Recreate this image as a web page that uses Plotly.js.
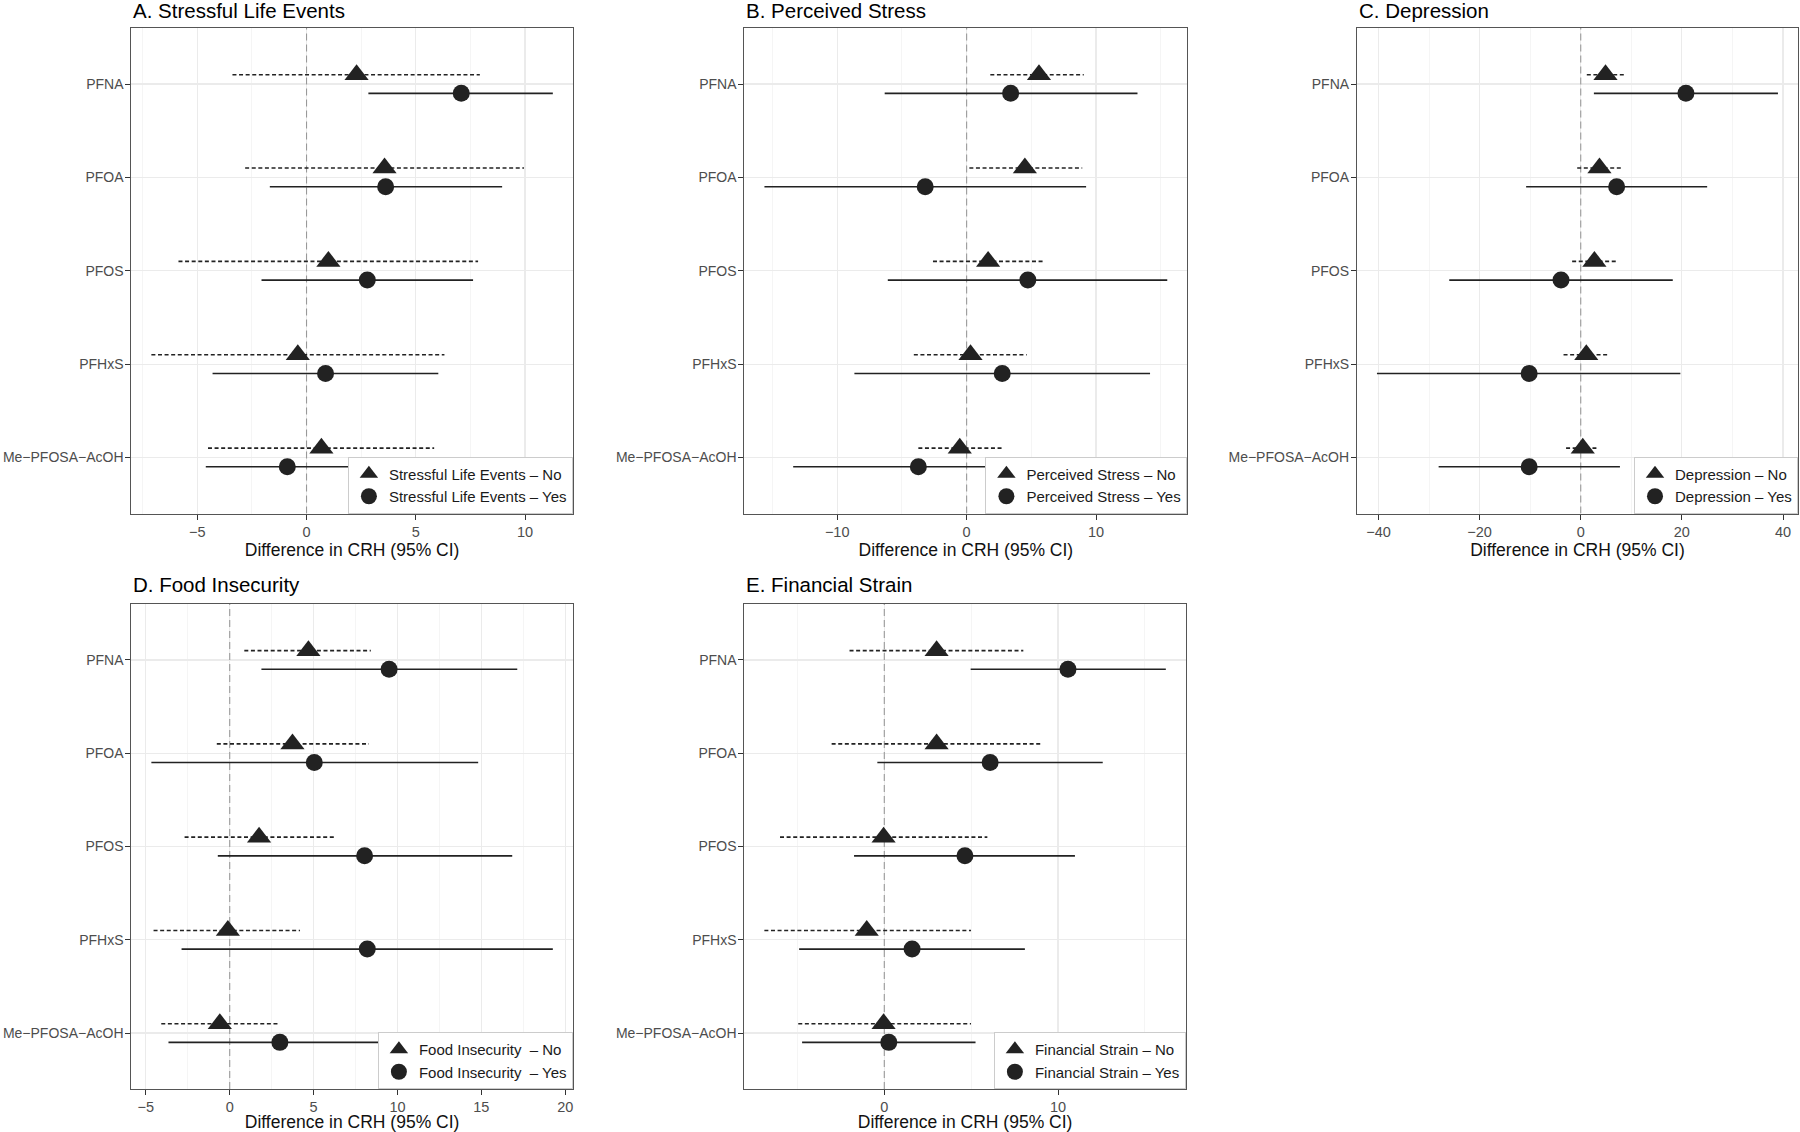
<!DOCTYPE html>
<html>
<head>
<meta charset="utf-8">
<script src="https://cdn.plot.ly/plotly-3.0.1.min.js"></script>
<style>html,body{margin:0;padding:0;background:#fff;} #chart{width:1800px;height:1132px;}</style>
</head>
<body>
<div id="chart"></div>
<script>
// ---------- DATA ----------
const chemicals = ["PFNA", "PFOA", "PFOS", "PFHxS", "Me\u2212PFOSA\u2212AcOH"];

const panelTitles = ["A. Stressful Life Events", "B. Perceived Stress", "C. Depression", "D. Food Insecurity", "E. Financial Strain"];
const legendNames = ["Stressful Life Events", "Perceived Stress", "Depression", "Food Insecurity\u00a0", "Financial Strain"];
const axisTitle = "Difference in CRH (95% CI)";

// A. Stressful Life Events
const A_no_est = [2.29, 3.57, 1.00, -0.40, 0.68];
const A_no_lo  = [-3.39, -2.81, -5.86, -7.10, -4.51];
const A_no_hi  = [7.93, 9.95, 7.85, 6.31, 5.84];
const A_yes_est = [7.08, 3.62, 2.78, 0.87, -0.88];
const A_yes_lo  = [2.83, -1.68, -2.06, -4.30, -4.61];
const A_yes_hi  = [11.27, 8.95, 7.62, 6.03, 3.0];

// B. Perceived Stress
const B_no_est = [5.59, 4.50, 1.66, 0.30, -0.53];
const B_no_lo  = [1.83, 0.21, -2.60, -4.08, -3.73];
const B_no_hi  = [9.05, 8.93, 5.95, 4.64, 2.78];
const B_yes_est = [3.40, -3.20, 4.73, 2.75, -3.73];
const B_yes_lo  = [-6.33, -15.62, -6.09, -8.67, -13.4];
const B_yes_hi  = [13.2, 9.23, 15.5, 14.17, 6.0];

// C. Depression
const C_no_est = [4.9, 3.7, 2.7, 1.1, 0.4];
const C_no_lo  = [1.2, -0.7, -1.7, -3.4, -2.9];
const C_no_hi  = [8.6, 8.1, 7.0, 5.3, 3.1];
const C_yes_est = [20.8, 7.1, -3.9, -10.2, -10.2];
const C_yes_lo  = [2.6, -10.8, -26.0, -40.3, -28.1];
const C_yes_hi  = [39.0, 25.0, 18.2, 19.7, 7.75];

// D. Food Insecurity
const D_no_est = [4.69, 3.74, 1.75, -0.11, -0.59];
const D_no_lo  = [0.87, -0.77, -2.69, -4.54, -4.08];
const D_no_hi  = [8.41, 8.30, 6.22, 4.19, 2.99];
const D_yes_est = [9.50, 5.04, 8.04, 8.20, 2.99];
const D_yes_lo  = [1.89, -4.67, -0.71, -2.87, -3.65];
const D_yes_hi  = [17.14, 14.81, 16.84, 19.26, 10.0];

// E. Financial Strain
const E_no_est = [3.01, 3.01, -0.04, -1.01, -0.04];
const E_no_lo  = [-2.0, -3.03, -6.0, -6.90, -4.95];
const E_no_hi  = [8.0, 9.01, 5.93, 4.99, 4.99];
const E_yes_est = [10.57, 6.09, 4.64, 1.60, 0.26];
const E_yes_lo  = [4.97, -0.40, -1.74, -4.90, -4.73];
const E_yes_hi  = [16.2, 12.57, 10.97, 8.09, 5.25];

const xTickStep = [5, 10, 20, 5, 10];

// ---------- BUILD ----------
const panels = [
  {no:[A_no_est,A_no_lo,A_no_hi], yes:[A_yes_est,A_yes_lo,A_yes_hi]},
  {no:[B_no_est,B_no_lo,B_no_hi], yes:[B_yes_est,B_yes_lo,B_yes_hi]},
  {no:[C_no_est,C_no_lo,C_no_hi], yes:[C_yes_est,C_yes_lo,C_yes_hi]},
  {no:[D_no_est,D_no_lo,D_no_hi], yes:[D_yes_est,D_yes_lo,D_yes_hi]},
  {no:[E_no_est,E_no_lo,E_no_hi], yes:[E_yes_est,E_yes_lo,E_yes_hi]}
];

// panel boxes in pixels [left, right, top, bottom, titleCenterY]
const W = 1800, H = 1132;
const boxes = [
  [131.3, 572.9, 28, 513.5, 11],
  [744.3, 1187.4, 28, 513.5, 11],
  [1356.9, 1798, 28, 513.5, 11],
  [131.3, 572.9, 604, 1089, 584],
  [744.3, 1185.9, 604, 1089, 584]
];

const nCat = chemicals.length;
const catPos = chemicals.map((c, i) => nCat - i);
const yRange = [0.4, nCat + 0.6];
const dodge = 0.1;
const ink = '#222222';
const fontFam = '"Liberation Sans", Arial, Helvetica, sans-serif';

const traces = [];
const layout = {
  width: W, height: H,
  margin: {l:0, r:0, t:0, b:0},
  paper_bgcolor: '#ffffff', plot_bgcolor: '#ffffff',
  font: {family: fontFam, color: '#1a1a1a'},
  showlegend: true,
  shapes: [], annotations: []
};

function segs(lo, hi, yoff) {
  const xs = [], ys = [];
  lo.forEach((v, i) => { xs.push(v, hi[i], null); ys.push(catPos[i] + yoff, catPos[i] + yoff, null); });
  return {xs, ys};
}

panels.forEach((p, k) => {
  const n = k + 1;
  const xa = n === 1 ? 'x' : 'x' + n;
  const ya = n === 1 ? 'y' : 'y' + n;
  const lg = n === 1 ? 'legend' : 'legend' + n;
  const b = boxes[k];

  const sNo = segs(p.no[1], p.no[2], dodge);
  const sYes = segs(p.yes[1], p.yes[2], -dodge);
  traces.push({type:'scatter', mode:'lines', x:sNo.xs, y:sNo.ys, xaxis:xa, yaxis:ya,
    line:{color:ink, width:1.6, dash:'4px,2.6px'}, showlegend:false, hoverinfo:'skip', connectgaps:false});
  traces.push({type:'scatter', mode:'lines', x:sYes.xs, y:sYes.ys, xaxis:xa, yaxis:ya,
    line:{color:ink, width:1.6}, showlegend:false, hoverinfo:'skip', connectgaps:false});
  traces.push({type:'scatter', mode:'markers', x:p.no[0], y:catPos.map(v => v + dodge), xaxis:xa, yaxis:ya,
    marker:{symbol:'triangle-up', size:21, color:ink}, name: legendNames[k] + ' \u2013 No', legend: lg});
  traces.push({type:'scatter', mode:'markers', x:p.yes[0], y:catPos.map(v => v - dodge), xaxis:xa, yaxis:ya,
    marker:{symbol:'circle', size:17, color:ink}, name: legendNames[k] + ' \u2013 Yes', legend: lg});

  const all = [].concat(p.no[1], p.no[2], p.yes[1], p.yes[2], p.no[0], p.yes[0]);
  const mn = Math.min(...all), mx = Math.max(...all);
  const pad = (mx - mn) * 0.05;

  const xKey = n === 1 ? 'xaxis' : 'xaxis' + n;
  const yKey = n === 1 ? 'yaxis' : 'yaxis' + n;
  layout[xKey] = {
    domain: [b[0] / W, b[1] / W], anchor: ya,
    range: [mn - pad, mx + pad],
    dtick: xTickStep[k], tick0: 0, tickmode: 'linear',
    ticks: 'outside', ticklen: 5, tickcolor: '#333333', tickwidth: 1,
    tickfont: {size: 14.5, color: '#4d4d4d'},
    showgrid: true, gridcolor: '#ebebeb', gridwidth: 1.2,
    minor: {dtick: xTickStep[k] / 2, tick0: 0, showgrid: true, gridcolor: '#f2f2f2', gridwidth: 0.8, ticks: ''},
    zeroline: false,
    showline: true, mirror: true, linecolor: '#555555', linewidth: 1,
    title: {text: axisTitle, font: {size: 17.5, color: '#111111'}, standoff: 2},
    automargin: false, fixedrange: true
  };
  layout[yKey] = {
    domain: [1 - b[3] / H, 1 - b[2] / H], anchor: xa,
    range: yRange,
    tickmode: 'array', tickvals: catPos, ticktext: chemicals,
    ticks: 'outside', ticklen: 5, tickcolor: '#333333', tickwidth: 1,
    tickfont: {size: 14, color: '#4d4d4d'},
    ticklabelstandoff: -1,
    showgrid: true, gridcolor: '#ebebeb', gridwidth: 1.2,
    zeroline: false,
    showline: true, mirror: true, linecolor: '#555555', linewidth: 1,
    automargin: false, fixedrange: true
  };
  layout[lg] = {
    x: b[1] / W, xanchor: 'right', xref: 'paper',
    y: 1 - b[3] / H, yanchor: 'bottom', yref: 'paper',
    bgcolor: '#ffffff', bordercolor: '#cccccc', borderwidth: 1,
    font: {size: 15, color: '#1a1a1a'},
    tracegroupgap: 0, itemsizing: 'trace'
  };
  layout.shapes.push({type:'line', xref: xa, yref: ya, x0: 0, x1: 0, y0: yRange[0], y1: yRange[1],
    line: {color: '#999999', width: 1.1, dash: '7px,4px'}, layer: 'between'});
  layout.annotations.push({xref:'paper', yref:'paper', x: b[0] / W, y: 1 - b[4] / H,
    xanchor:'left', yanchor:'middle', showarrow:false, text: panelTitles[k],
    font: {size: 20.5, color: '#000000'}});
});

Plotly.newPlot('chart', traces, layout, {displayModeBar: false, staticPlot: true});
</script>
</body>
</html>
